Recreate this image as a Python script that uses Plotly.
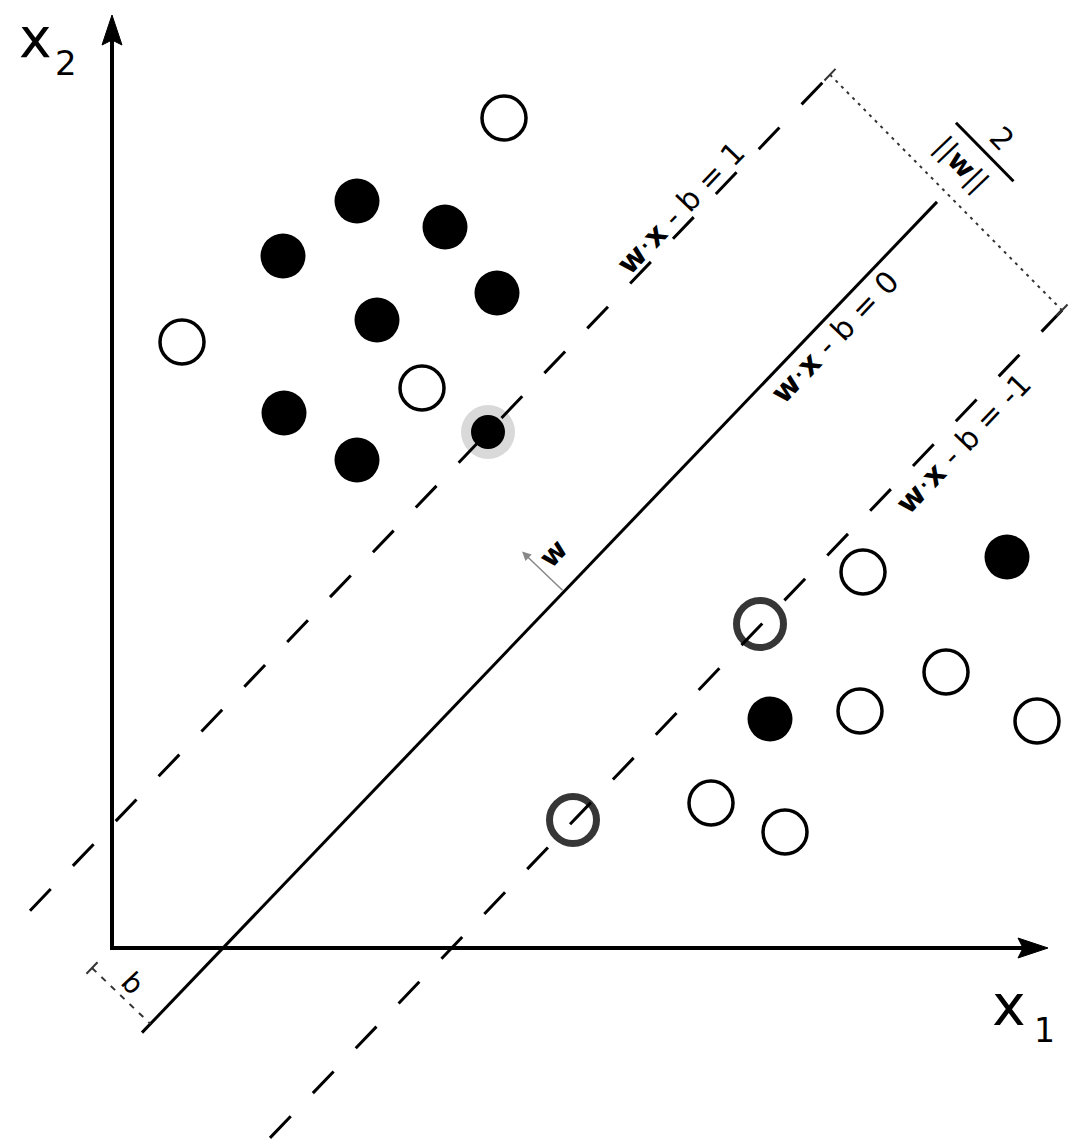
import numpy as np
import plotly.graph_objects as go

# sample points, in plot units (origin at the corner of the axes)
filled_x = [245, 333, 171, 385, 265, 172, 245, 895, 658]
filled_y = [747, 721, 692, 655, 628, 535, 488, 391, 229]
open_x = [392, 70, 310, 751, 834, 748, 925, 599, 673]
open_y = [830, 606, 560, 376, 276, 237, 227, 145, 116]
sv_filled_x = [376]
sv_filled_y = [516]
sv_open_x = [648, 461]
sv_open_y = [324, 128]

# hyperplanes y = slope * x + offset
slope = 1.045
plane_labels = ["<b>w</b>·<b>x</b> - b = 1", "<b>w</b>·<b>x</b> - b = 0", "<b>w</b>·<b>x</b> - b = -1"]
plane_offsets = [123, -116, -355]
plane_x0 = [-82, 30, 158]
plane_x1 = [718, 825, 950]

axis_x_end = 936
axis_y_end = 933

FONT = "DejaVu Sans"
u = np.array([1.0, slope]) / np.hypot(1.0, slope)   # along the planes
n = np.array([-slope, 1.0]) / np.hypot(1.0, slope)  # normal (w direction)
ang = np.degrees(np.arctan(slope))

fig = go.Figure()

# axes
fig.add_trace(go.Scatter(x=[0, 0, axis_x_end - 20], y=[axis_y_end - 20, 0, 0], mode="lines",
                         line=dict(color="black", width=4), hoverinfo="skip"))
for tip, d in [((axis_x_end, 0), (1, 0)), ((0, axis_y_end), (0, 1))]:
    tip = np.array(tip, float)
    d = np.array(d, float)
    p = np.array([-d[1], d[0]])
    pts = [tip, tip - 30 * d + 10 * p, tip - 25 * d, tip - 30 * d - 10 * p, tip]
    fig.add_trace(go.Scatter(x=[q[0] for q in pts], y=[q[1] for q in pts], mode="lines",
                             fill="toself", fillcolor="black", line=dict(color="black", width=1),
                             hoverinfo="skip"))

# points
fig.add_trace(go.Scatter(x=sv_filled_x, y=sv_filled_y, mode="markers",
                         marker=dict(size=54, color="#d9d9d9", line=dict(width=0)), hoverinfo="skip"))
fig.add_trace(go.Scatter(x=sv_filled_x, y=sv_filled_y, mode="markers",
                         marker=dict(size=34, color="black", line=dict(width=0)), hoverinfo="skip"))
fig.add_trace(go.Scatter(x=filled_x, y=filled_y, mode="markers",
                         marker=dict(size=45, color="black", line=dict(width=0)), hoverinfo="skip"))
fig.add_trace(go.Scatter(x=open_x, y=open_y, mode="markers",
                         marker=dict(size=44, color="white", line=dict(color="black", width=3.5)),
                         hoverinfo="skip"))
fig.add_trace(go.Scatter(x=sv_open_x, y=sv_open_y, mode="markers",
                         marker=dict(size=47, color="rgba(255,255,255,0)",
                                     line=dict(color="#363636", width=7)), hoverinfo="skip"))

# hyperplanes
for i in range(3):
    xs = np.array([plane_x0[i], plane_x1[i]], float)
    ys = slope * xs + plane_offsets[i]
    fig.add_trace(go.Scatter(x=xs, y=ys, mode="lines", hoverinfo="skip",
                             line=dict(color="black", width=3,
                                       dash="solid" if i == 1 else "30px,32px")))

# margin dimension (dotted) between the two dashed planes
top = np.array([plane_x1[0], slope * plane_x1[0] + plane_offsets[0]])
bot = np.array([plane_x1[2], slope * plane_x1[2] + plane_offsets[2]])
fig.add_trace(go.Scatter(x=[top[0], bot[0]], y=[top[1], bot[1]], mode="lines", hoverinfo="skip",
                         line=dict(color="#333", width=2, dash="3px,5px")))
for e in (top, bot):
    a, b = e - 8 * u, e + 8 * u
    fig.add_trace(go.Scatter(x=[a[0], b[0]], y=[a[1], b[1]], mode="lines", hoverinfo="skip",
                             line=dict(color="#333", width=2)))
mid = (top + bot) / 2
bar_c = mid + 56 * u
md = (bot - top) / np.linalg.norm(bot - top)
a, b = bar_c - 41 * md, bar_c + 41 * md
fig.add_trace(go.Scatter(x=[a[0], b[0]], y=[a[1], b[1]], mode="lines", hoverinfo="skip",
                         line=dict(color="black", width=3)))

# offset b dimension, from beside the origin down to the separating plane
b_start = np.array([-20.0, -20.0])
m = -n
s = (slope * b_start[0] + plane_offsets[1] - b_start[1]) / (m[1] - slope * m[0])
b_end = b_start + s * m
fig.add_trace(go.Scatter(x=[b_start[0], b_end[0]], y=[b_start[1], b_end[1]], mode="lines",
                         hoverinfo="skip", line=dict(color="#333", width=2, dash="6px,7px")))
a, b = b_start - 8 * u, b_start + 8 * u
fig.add_trace(go.Scatter(x=[a[0], b[0]], y=[a[1], b[1]], mode="lines", hoverinfo="skip",
                         line=dict(color="#333", width=2)))

# w vector
w_start = np.array([452.0, slope * 452 + plane_offsets[1]])
w_tip = w_start + 58 * n
fig.add_annotation(x=w_tip[0], y=w_tip[1], ax=w_start[0], ay=w_start[1], axref="x", ayref="y",
                   xref="x", yref="y", showarrow=True, arrowhead=2, arrowsize=1.2,
                   arrowwidth=1.5, arrowcolor="#888", text="")

# text
label_pos = [(568, 740), (722, 611), (851, 505)]
for lab, (lx, ly) in zip(plane_labels, label_pos):
    fig.add_annotation(x=lx, y=ly, text=lab, showarrow=False, textangle=-ang,
                       font=dict(family=FONT, size=30, color="black"))
texts = [
    (-77, 910, "x", 55, 0), (-46, 885, "2", 34, 0),
    (897, -57, "x", 57, 0), (932, -82, "1", 33, 0),
    (890, 810, "2", 30, ang), (850, 784, "||<b>w</b>||", 28, ang),
    (21, -35, "b", 28, ang), (441, 395, "<b>w</b>", 28, -ang),
]
for tx, ty, s_, fs, ta in texts:
    extra = dict(height=40, valign="middle") if s_ == "x" else {}
    fig.add_annotation(x=tx, y=ty, text=s_, showarrow=False, textangle=ta,
                       font=dict(family=FONT, size=fs, color="black"), **extra)

fig.update_layout(width=1078, height=1143, margin=dict(l=0, r=0, t=0, b=0),
                  xaxis=dict(range=[-112, 966], visible=False, fixedrange=True),
                  yaxis=dict(range=[-195, 948], visible=False, fixedrange=True),
                  plot_bgcolor="white", paper_bgcolor="white", showlegend=False,
                  hovermode=False)
# drop the default 8px body margin so the figure fills the page exactly
fig.write_html("out.html", config={"displayModeBar": False},
               post_script="document.body.style.margin='0';")
